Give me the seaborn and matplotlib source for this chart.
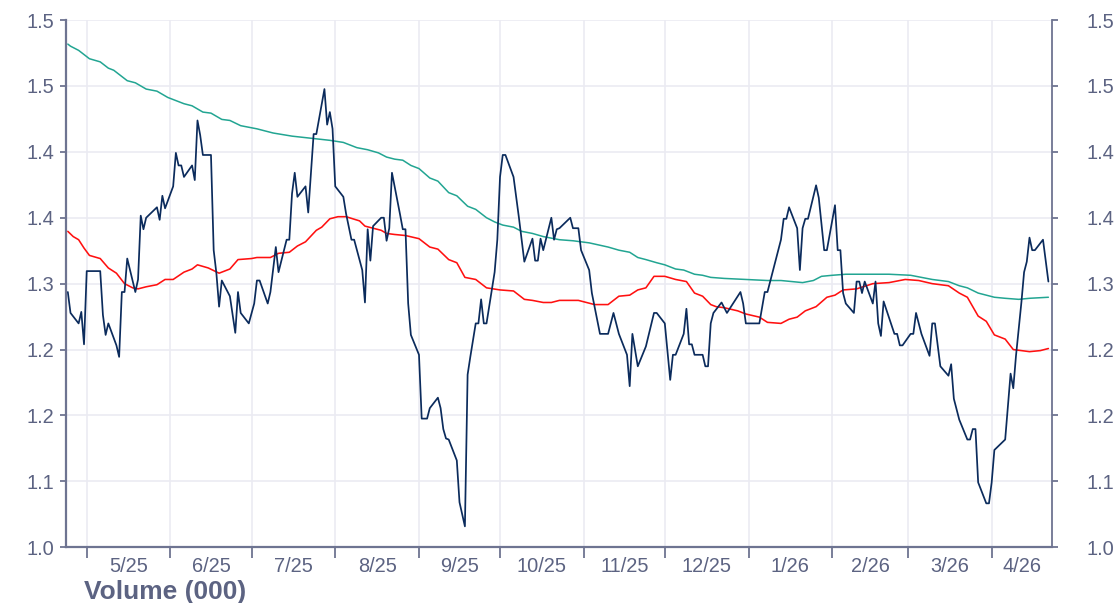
#!/usr/bin/env python3
"""Price line with two moving averages, dual y axis, monthly date axis."""

import pandas as pd
import matplotlib
matplotlib.use('Agg')
import matplotlib.pyplot as plt
import matplotlib.dates as mdates
import seaborn as sns

# ---- data ----
price_dates = [
    '2025-04-24', '2025-04-25', '2025-04-28', '2025-04-29', '2025-04-30', '2025-05-01', '2025-05-06', '2025-05-07',
    '2025-05-08', '2025-05-09', '2025-05-12', '2025-05-13', '2025-05-14', '2025-05-15', '2025-05-16', '2025-05-19',
    '2025-05-20', '2025-05-21', '2025-05-22', '2025-05-23', '2025-05-27', '2025-05-28', '2025-05-29', '2025-05-30',
    '2025-06-02', '2025-06-03', '2025-06-04', '2025-06-05', '2025-06-06', '2025-06-09', '2025-06-10', '2025-06-11',
    '2025-06-12', '2025-06-13', '2025-06-16', '2025-06-17', '2025-06-18', '2025-06-19', '2025-06-20', '2025-06-23',
    '2025-06-25', '2025-06-26', '2025-06-27', '2025-06-30', '2025-07-02', '2025-07-03', '2025-07-04', '2025-07-07',
    '2025-07-08', '2025-07-10', '2025-07-11', '2025-07-14', '2025-07-15', '2025-07-16', '2025-07-17', '2025-07-18',
    '2025-07-21', '2025-07-22', '2025-07-24', '2025-07-25', '2025-07-28', '2025-07-29', '2025-07-30', '2025-07-31',
    '2025-08-01', '2025-08-04', '2025-08-05', '2025-08-07', '2025-08-08', '2025-08-11', '2025-08-12', '2025-08-13',
    '2025-08-14', '2025-08-15', '2025-08-18', '2025-08-19', '2025-08-20', '2025-08-21', '2025-08-22', '2025-08-25',
    '2025-08-26', '2025-08-27', '2025-08-28', '2025-08-29', '2025-09-01', '2025-09-02', '2025-09-04', '2025-09-05',
    '2025-09-08', '2025-09-09', '2025-09-10', '2025-09-11', '2025-09-12', '2025-09-15', '2025-09-16', '2025-09-18',
    '2025-09-19', '2025-09-20', '2025-09-22', '2025-09-23', '2025-09-24', '2025-09-25', '2025-09-26', '2025-09-29',
    '2025-09-30', '2025-10-01', '2025-10-02', '2025-10-03', '2025-10-06', '2025-10-08', '2025-10-10', '2025-10-13',
    '2025-10-14', '2025-10-15', '2025-10-16', '2025-10-17', '2025-10-20', '2025-10-21', '2025-10-22', '2025-10-23',
    '2025-10-27', '2025-10-28', '2025-10-30', '2025-10-31', '2025-11-03', '2025-11-04', '2025-11-07', '2025-11-10',
    '2025-11-12', '2025-11-14', '2025-11-17', '2025-11-18', '2025-11-19', '2025-11-21', '2025-11-24', '2025-11-27',
    '2025-11-28', '2025-12-01', '2025-12-03', '2025-12-04', '2025-12-05', '2025-12-08', '2025-12-09', '2025-12-10',
    '2025-12-11', '2025-12-12', '2025-12-15', '2025-12-16', '2025-12-17', '2025-12-18', '2025-12-19', '2025-12-22',
    '2025-12-24', '2025-12-29', '2025-12-30', '2025-12-31', '2026-01-05', '2026-01-07', '2026-01-08', '2026-01-13',
    '2026-01-14', '2026-01-15', '2026-01-16', '2026-01-19', '2026-01-20', '2026-01-21', '2026-01-22', '2026-01-23',
    '2026-01-26', '2026-01-27', '2026-01-29', '2026-01-30', '2026-02-02', '2026-02-03', '2026-02-04', '2026-02-05',
    '2026-02-06', '2026-02-09', '2026-02-10', '2026-02-11', '2026-02-12', '2026-02-13', '2026-02-16', '2026-02-17',
    '2026-02-18', '2026-02-19', '2026-02-20', '2026-02-24', '2026-02-25', '2026-02-26', '2026-02-27', '2026-03-02',
    '2026-03-03', '2026-03-04', '2026-03-06', '2026-03-09', '2026-03-10', '2026-03-11', '2026-03-13', '2026-03-16',
    '2026-03-17', '2026-03-18', '2026-03-20', '2026-03-23', '2026-03-24', '2026-03-25', '2026-03-26', '2026-03-27',
    '2026-03-30', '2026-03-31', '2026-04-01', '2026-04-02', '2026-04-06', '2026-04-08', '2026-04-09', '2026-04-10',
    '2026-04-12', '2026-04-13', '2026-04-14', '2026-04-15', '2026-04-16', '2026-04-17', '2026-04-20', '2026-04-22',
]
price_values = [
    1.284, 1.264, 1.254, 1.265, 1.234, 1.304, 1.304, 1.262,
    1.243, 1.254, 1.233, 1.222, 1.284, 1.284, 1.316, 1.284,
    1.296, 1.357, 1.344, 1.355, 1.365, 1.353, 1.376, 1.364,
    1.385, 1.417, 1.405, 1.405, 1.394, 1.405, 1.391, 1.448,
    1.434, 1.415, 1.415, 1.324, 1.302, 1.270, 1.295, 1.280,
    1.245, 1.284, 1.264, 1.254, 1.273, 1.295, 1.295, 1.273,
    1.284, 1.327, 1.303, 1.334, 1.334, 1.378, 1.398, 1.375,
    1.385, 1.360, 1.435, 1.435, 1.478, 1.444, 1.456, 1.440,
    1.385, 1.375, 1.359, 1.334, 1.334, 1.305, 1.274, 1.344,
    1.314, 1.347, 1.355, 1.355, 1.333, 1.345, 1.398, 1.358,
    1.344, 1.344, 1.273, 1.243, 1.224, 1.163, 1.163, 1.173,
    1.183, 1.173, 1.153, 1.144, 1.143, 1.123, 1.083, 1.060,
    1.205, 1.222, 1.254, 1.254, 1.277, 1.254, 1.254, 1.303,
    1.334, 1.394, 1.415, 1.415, 1.394, 1.355, 1.313, 1.335,
    1.314, 1.314, 1.335, 1.324, 1.355, 1.334, 1.344, 1.345,
    1.355, 1.345, 1.345, 1.324, 1.305, 1.283, 1.244, 1.244,
    1.264, 1.244, 1.224, 1.194, 1.244, 1.213, 1.232, 1.264,
    1.264, 1.254, 1.200, 1.224, 1.224, 1.244, 1.268, 1.234,
    1.234, 1.224, 1.224, 1.213, 1.213, 1.254, 1.264, 1.274,
    1.264, 1.284, 1.273, 1.254, 1.254, 1.284, 1.284, 1.334,
    1.354, 1.354, 1.365, 1.345, 1.305, 1.345, 1.354, 1.354,
    1.386, 1.374, 1.324, 1.324, 1.367, 1.324, 1.324, 1.283,
    1.273, 1.264, 1.294, 1.294, 1.283, 1.294, 1.273, 1.294,
    1.254, 1.242, 1.275, 1.244, 1.244, 1.233, 1.233, 1.244,
    1.244, 1.264, 1.244, 1.223, 1.254, 1.254, 1.213, 1.204,
    1.215, 1.182, 1.162, 1.143, 1.143, 1.153, 1.153, 1.102,
    1.082, 1.082, 1.102, 1.133, 1.143, 1.206, 1.192, 1.223,
    1.274, 1.303, 1.313, 1.336, 1.324, 1.324, 1.334, 1.294,
]

ma_short_dates = [
    '2025-04-24', '2025-04-26', '2025-04-28', '2025-04-30', '2025-05-02', '2025-05-06', '2025-05-09', '2025-05-12',
    '2025-05-15', '2025-05-18', '2025-05-20', '2025-05-23', '2025-05-27', '2025-05-30', '2025-06-02', '2025-06-06',
    '2025-06-09', '2025-06-11', '2025-06-15', '2025-06-19', '2025-06-23', '2025-06-26', '2025-07-01', '2025-07-03',
    '2025-07-08', '2025-07-11', '2025-07-15', '2025-07-18', '2025-07-21', '2025-07-25', '2025-07-27', '2025-07-30',
    '2025-08-02', '2025-08-05', '2025-08-10', '2025-08-12', '2025-08-15', '2025-08-18', '2025-08-20', '2025-08-23',
    '2025-08-27', '2025-09-01', '2025-09-05', '2025-09-08', '2025-09-12', '2025-09-15', '2025-09-18', '2025-09-22',
    '2025-09-26', '2025-10-01', '2025-10-06', '2025-10-10', '2025-10-13', '2025-10-17', '2025-10-20', '2025-10-23',
    '2025-10-30', '2025-11-05', '2025-11-10', '2025-11-14', '2025-11-18', '2025-11-21', '2025-11-24', '2025-11-27',
    '2025-12-01', '2025-12-05', '2025-12-09', '2025-12-12', '2025-12-15', '2025-12-18', '2025-12-20', '2025-12-23',
    '2025-12-28', '2025-12-31', '2026-01-05', '2026-01-08', '2026-01-13', '2026-01-16', '2026-01-19', '2026-01-22',
    '2026-01-26', '2026-01-30', '2026-02-02', '2026-02-05', '2026-02-10', '2026-02-16', '2026-02-22', '2026-02-28',
    '2026-03-05', '2026-03-10', '2026-03-16', '2026-03-20', '2026-03-23', '2026-03-27', '2026-03-30', '2026-04-02',
    '2026-04-06', '2026-04-09', '2026-04-15', '2026-04-19', '2026-04-22',
]
ma_short_values = [
    1.342, 1.337, 1.334, 1.326, 1.319, 1.316, 1.307, 1.302,
    1.292, 1.288, 1.287, 1.289, 1.291, 1.296, 1.296, 1.303,
    1.306, 1.310, 1.307, 1.302, 1.306, 1.315, 1.316, 1.317,
    1.317, 1.321, 1.322, 1.328, 1.332, 1.343, 1.346, 1.354,
    1.356, 1.356, 1.352, 1.347, 1.345, 1.343, 1.340, 1.339,
    1.338, 1.335, 1.327, 1.325, 1.315, 1.312, 1.298, 1.296,
    1.288, 1.286, 1.285, 1.277, 1.276, 1.274, 1.274, 1.276,
    1.276, 1.272, 1.272, 1.280, 1.281, 1.286, 1.288, 1.299,
    1.299, 1.296, 1.294, 1.283, 1.280, 1.272, 1.270, 1.269,
    1.266, 1.263, 1.260, 1.255, 1.254, 1.258, 1.260, 1.266,
    1.270, 1.279, 1.281, 1.286, 1.287, 1.292, 1.293, 1.296,
    1.295, 1.292, 1.290, 1.283, 1.279, 1.261, 1.256, 1.243,
    1.239, 1.229, 1.227, 1.228, 1.230,
]

ma_long_dates = [
    '2025-04-24', '2025-04-25', '2025-04-28', '2025-05-02', '2025-05-06', '2025-05-09', '2025-05-11', '2025-05-16',
    '2025-05-19', '2025-05-23', '2025-05-27', '2025-05-31', '2025-06-02', '2025-06-06', '2025-06-09', '2025-06-13',
    '2025-06-16', '2025-06-20', '2025-06-23', '2025-06-27', '2025-07-03', '2025-07-09', '2025-07-16', '2025-07-23',
    '2025-07-30', '2025-08-04', '2025-08-09', '2025-08-13', '2025-08-17', '2025-08-20', '2025-08-23', '2025-08-26',
    '2025-08-29', '2025-09-01', '2025-09-05', '2025-09-08', '2025-09-12', '2025-09-15', '2025-09-19', '2025-09-22',
    '2025-09-26', '2025-09-29', '2025-10-02', '2025-10-06', '2025-10-09', '2025-10-13', '2025-10-17', '2025-10-23',
    '2025-10-28', '2025-11-03', '2025-11-10', '2025-11-14', '2025-11-18', '2025-11-21', '2025-11-24', '2025-11-28',
    '2025-12-01', '2025-12-05', '2025-12-08', '2025-12-12', '2025-12-15', '2025-12-18', '2025-12-23', '2025-12-31',
    '2026-01-08', '2026-01-13', '2026-01-17', '2026-01-21', '2026-01-25', '2026-01-28', '2026-02-01', '2026-02-06',
    '2026-02-13', '2026-02-22', '2026-03-02', '2026-03-06', '2026-03-10', '2026-03-16', '2026-03-20', '2026-03-23',
    '2026-03-27', '2026-03-30', '2026-04-02', '2026-04-06', '2026-04-11', '2026-04-15', '2026-04-22',
]
ma_long_values = [
    1.521, 1.519, 1.515, 1.507, 1.504, 1.498, 1.496, 1.486,
    1.484, 1.478, 1.476, 1.470, 1.468, 1.464, 1.462, 1.456,
    1.455, 1.449, 1.448, 1.443, 1.440, 1.436, 1.433, 1.431,
    1.429, 1.427, 1.422, 1.420, 1.417, 1.413, 1.411, 1.410,
    1.405, 1.402, 1.393, 1.390, 1.379, 1.376, 1.366, 1.363,
    1.355, 1.351, 1.348, 1.346, 1.342, 1.340, 1.337, 1.334,
    1.333, 1.331, 1.327, 1.324, 1.322, 1.317, 1.315, 1.312,
    1.310, 1.306, 1.305, 1.301, 1.300, 1.298, 1.297, 1.296,
    1.295, 1.295, 1.294, 1.293, 1.295, 1.299, 1.300, 1.301,
    1.301, 1.301, 1.300, 1.298, 1.296, 1.294, 1.290, 1.288,
    1.283, 1.281, 1.279, 1.278, 1.277, 1.278, 1.279,
]

y_ticks = [1.040, 1.103, 1.166, 1.229, 1.292, 1.355, 1.418, 1.481, 1.544]
y_tick_labels = ['1.0', '1.1', '1.2', '1.2', '1.3', '1.4', '1.4', '1.5', '1.5']
month_labels = ['5/25', '6/25', '7/25', '8/25', '9/25', '10/25', '11/25', '12/25',
                '1/26', '2/26', '3/26', '4/26']
x_start = pd.Timestamp('2025-04-23 08:00')
x_end = pd.Timestamp('2026-04-23 08:00')

# ---- style ----
TEXT = '#5c6382'
AXIS = '#6e7491'
GRID = '#ebebf2'
NAVY = '#0b2b5c'
RED = '#ff1010'
TEAL = '#22a592'
TICK_FS = 14.4

sns.set_theme(style='white')
plt.rcParams['font.family'] = ['Liberation Sans', 'DejaVu Sans']

fig = plt.figure(figsize=(11.15, 6.03), dpi=100)
ax = fig.add_axes([0.0592, 0.0924, 0.8843, 0.8744])

sns.lineplot(x=pd.to_datetime(ma_long_dates), y=ma_long_values, ax=ax,
             color=TEAL, linewidth=1.1)
sns.lineplot(x=pd.to_datetime(ma_short_dates), y=ma_short_values, ax=ax,
             color=RED, linewidth=1.15)
sns.lineplot(x=pd.to_datetime(price_dates), y=price_values, ax=ax,
             color=NAVY, linewidth=1.25)

ax.set_xlim(x_start, x_end)
ax.set_ylim(y_ticks[0], y_ticks[-1])
ax.set_xlabel('')
ax.set_ylabel('')

# month boundaries carry ticks + grid, labels sit centred in each month
month_starts = pd.date_range('2025-05-01', '2026-04-01', freq='MS')
bounds = [mdates.date2num(d) for d in month_starts] + [mdates.date2num(x_end)]
mids = [(a + b) / 2 for a, b in zip(bounds[:-1], bounds[1:])]
ax.set_xticks(bounds[:-1])
ax.set_xticklabels([])
ax.set_xticks(mids, minor=True)
ax.set_xticklabels(month_labels, minor=True)
ax.tick_params(axis='x', which='major', direction='out', length=8, width=1.3,
               color=AXIS, bottom=True)
ax.tick_params(axis='x', which='minor', length=0, pad=7, labelsize=TICK_FS,
               labelcolor=TEXT, bottom=True)

ax.set_yticks(y_ticks)
ax.set_yticklabels(y_tick_labels)
ax.tick_params(axis='y', direction='out', length=4.5, width=1.3, color=AXIS,
               pad=4, labelsize=TICK_FS, labelcolor=TEXT, left=True)

ax.grid(True, which='major', color=GRID, linewidth=1.2)
ax.set_axisbelow(True)
for side in ['top', 'right']:
    ax.spines[side].set_visible(False)
for side in ['left', 'bottom']:
    ax.spines[side].set_color(AXIS)
    ax.spines[side].set_linewidth(1.6)

# right-hand copy of the y axis
ax2 = ax.twinx()
ax2.set_ylim(ax.get_ylim())
ax2.set_yticks(y_ticks)
ax2.set_yticklabels(y_tick_labels)
ax2.tick_params(axis='y', direction='out', length=4, width=1.3, color=AXIS,
                pad=21, labelsize=TICK_FS, labelcolor=TEXT, right=True)
for side in ['top', 'left', 'bottom']:
    ax2.spines[side].set_visible(False)
ax2.spines['right'].set_color(AXIS)
ax2.spines['right'].set_linewidth(1.3)
ax2.grid(False)

fig.text(84 / 1115, 4.5 / 603, 'Volume (000)', fontsize=19, fontweight='bold',
         color=TEXT, ha='left', va='baseline')

fig.savefig('out.png', dpi=100)
plt.close(fig)
